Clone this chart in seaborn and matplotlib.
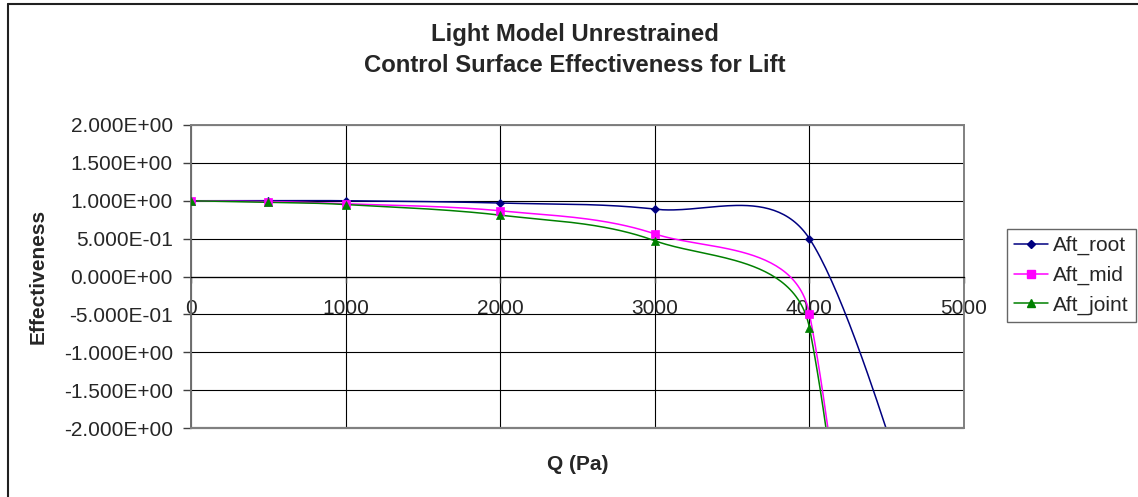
import numpy as np
import pandas as pd
import matplotlib
matplotlib.use("Agg")
import matplotlib.pyplot as plt
from matplotlib.lines import Line2D
from matplotlib.ticker import FuncFormatter
import seaborn as sns

# Dynamic pressure (Pa) and control surface effectiveness per surface
q_pa = [0, 500, 1000, 2000, 3000, 4000, 5000]
aft_root = [1.0, 1.0, 1.0, 0.97, 0.889, 0.5, -5.3]
aft_mid = [1.0, 0.99, 0.96, 0.867, 0.563, -0.49, -20.0]
aft_joint = [1.0, 0.98, 0.95, 0.81, 0.472, -0.675, -20.0]

series_names = ["Aft_root", "Aft_mid", "Aft_joint"]
series_values = [aft_root, aft_mid, aft_joint]
series_colors = ["#000080", "#FF00FF", "#008000"]
series_markers = ["D", "s", "^"]
marker_sizes = [4.2, 5.3, 5.8]

x_ticks = [0, 1000, 2000, 3000, 4000, 5000]
y_ticks = [-2.0, -1.5, -1.0, -0.5, 0.0, 0.5, 1.0, 1.5, 2.0]

title_lines = ["Light Model Unrestrained", "Control Surface Effectiveness for Lift"]

sns.set_style("white")
plt.rcParams["font.family"] = ["Liberation Sans", "DejaVu Sans"]

W, H = 1138, 497
FS = 15
fig = plt.figure(figsize=(W / 100, H / 100), dpi=100)
ax = fig.add_axes([191 / W, 1 - 428 / H, (964 - 191) / W, (428 - 125) / H])
ax.set_xlim(0, 5000)
ax.set_ylim(-2, 2)


def smooth_curve(xs, ys, tension=1 / 6, clamp=0.42, n=60):
    """Piecewise cubic Bezier through the points, built in display space."""
    pts = ax.transData.transform(np.column_stack([xs, ys]))
    m = len(pts)
    tang = [(pts[min(i + 1, m - 1)] - pts[max(i - 1, 0)]) * tension for i in range(m)]
    t = np.linspace(0, 1, n)[1:, None]
    out = [pts[:1]]
    for i in range(m - 1):
        p0, p3 = pts[i], pts[i + 1]
        chord = np.hypot(*(p3 - p0))
        a, b = tang[i].copy(), tang[i + 1].copy()
        for v in (a, b):
            L = np.hypot(*v)
            if L > clamp * chord:
                v *= clamp * chord / L
        c1, c2 = p0 + a, p3 - b
        seg = (1 - t) ** 3 * p0 + 3 * (1 - t) ** 2 * t * c1 + 3 * (1 - t) * t ** 2 * c2 + t ** 3 * p3
        out.append(seg)
    return ax.transData.inverted().transform(np.vstack(out))


# grid and frame
ax.set_xticks(x_ticks)
ax.set_yticks(y_ticks)
ax.grid(True, color="black", linewidth=0.8, zorder=0)
ax.set_axisbelow(True)

for name, vals, col in zip(series_names, series_values, series_colors):
    curve = smooth_curve(q_pa, vals)
    df = pd.DataFrame({"Q": curve[:, 0], "E": curve[:, 1]})
    sns.lineplot(data=df, x="Q", y="E", sort=False, estimator=None, color=col,
                 linewidth=1.1, ax=ax, legend=False, zorder=3)

for name, vals, col, mk, ms in zip(series_names, series_values, series_colors,
                                   series_markers, marker_sizes):
    pts = pd.DataFrame({"Q": q_pa, "E": vals})
    sns.scatterplot(data=pts, x="Q", y="E", color=col, marker=mk, s=ms ** 2,
                    edgecolor=col, linewidth=0.5, ax=ax, legend=False, zorder=4)

ax.set_xlim(0, 5000)
ax.set_ylim(-2, 2)

# axis lines
for side in ["top", "right", "left"]:
    ax.spines[side].set_visible(True)
    ax.spines[side].set_color("#808080")
    ax.spines[side].set_linewidth(1.4)
ax.spines["left"].set_color("#707070")
ax.spines["bottom"].set_position(("data", 0))
ax.spines["bottom"].set_color("black")
ax.spines["bottom"].set_linewidth(0.9)
ax.axhline(-2, color="#808080", linewidth=1.6, clip_on=False, zorder=5)

ax.yaxis.set_major_formatter(FuncFormatter(lambda v, p: f"{v:.3E}"))
ax.xaxis.set_major_formatter(FuncFormatter(lambda v, p: f"{v:.0f}"))
ax.tick_params(axis="y", direction="out", length=6, width=1, color="#404040",
               pad=7, labelsize=FS, left=True)
ax.tick_params(axis="x", direction="out", length=4, width=1, color="#404040",
               pad=12.5, labelsize=FS, bottom=True)

ax.set_xlabel("Q (Pa)", fontsize=FS, fontweight="bold")
ax.xaxis.set_label_coords(0.5, -0.122)
ax.xaxis.label.set_va("center")
ax.set_ylabel("Effectiveness", fontsize=FS, fontweight="bold")
ax.yaxis.set_label_coords(-(191 - 38) / 773, 0.5)
ax.yaxis.label.set_va("center")
ax.yaxis.label.set_ha("center")

fig.text(575 / W, 1 - 40.7 / H, title_lines[0], ha="center", va="baseline",
         fontsize=17.2, fontweight="bold")
fig.text(575 / W, 1 - 72.5 / H, title_lines[1], ha="center", va="baseline",
         fontsize=17.2, fontweight="bold")

handles = [Line2D([], [], color=c, marker=m, markersize=s, markeredgecolor=c, linewidth=1.1)
           for c, m, s in zip(series_colors, series_markers, marker_sizes)]
leg = fig.legend(handles, series_names, loc="upper left",
                 bbox_to_anchor=(1006.7 / W, 1 - 229.3 / H), bbox_transform=fig.transFigure,
                 borderaxespad=0, fontsize=FS, handlelength=1.65, handletextpad=0.25,
                 borderpad=0.33, labelspacing=0.5, frameon=True, fancybox=False)
leg.get_frame().set_edgecolor("#404040")
leg.get_frame().set_linewidth(1.0)

# chart border
fig.add_artist(Line2D([7.5 / W, 7.5 / W], [0, 1 - 3.5 / H], transform=fig.transFigure,
                      color="#202020", linewidth=1.5))
fig.add_artist(Line2D([7.5 / W, 1], [1 - 3.5 / H, 1 - 3.5 / H], transform=fig.transFigure,
                      color="#202020", linewidth=1.5))

fig.savefig("out.png", dpi=100)
